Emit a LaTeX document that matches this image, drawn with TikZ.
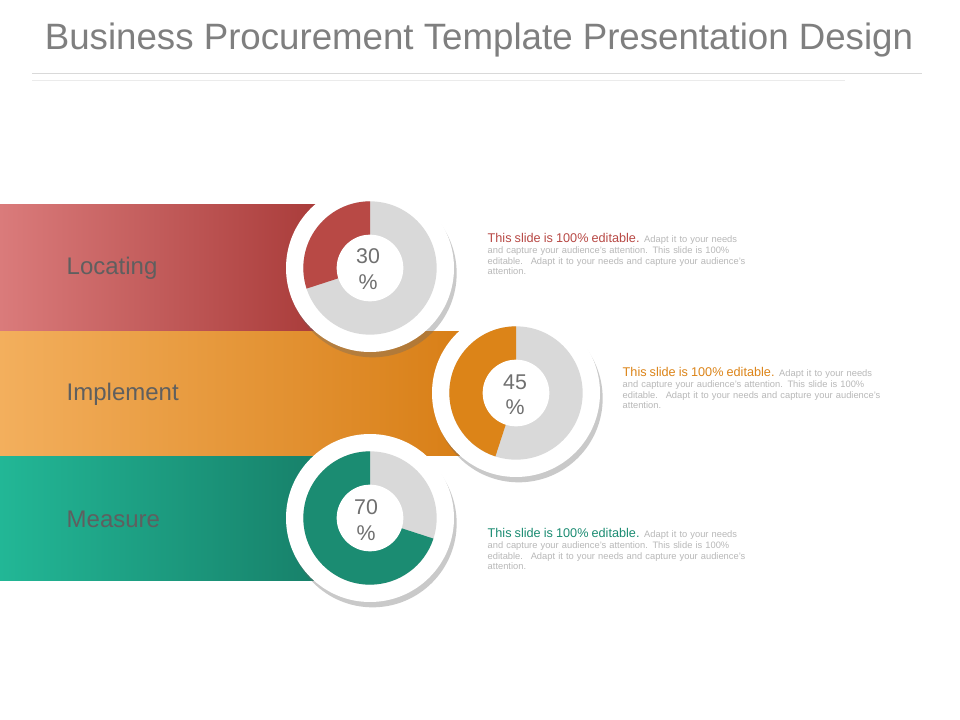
\documentclass[tikz,border=0pt]{standalone}
\usepackage{fontspec}
\setmainfont{Liberation Sans}
\usetikzlibrary{shadows}
\definecolor{redL}{HTML}{DA7B7B}\definecolor{redD}{HTML}{A1312F}\definecolor{redA}{HTML}{B84945}
\definecolor{orL}{HTML}{F3AF5D}\definecolor{orD}{HTML}{D77D14}\definecolor{orA}{HTML}{DC8418}
\definecolor{tlL}{HTML}{22B796}\definecolor{tlD}{HTML}{157762}\definecolor{tlA}{HTML}{1B8C72}
\definecolor{ringg}{HTML}{D9D9D9}\definecolor{txtg}{HTML}{5F5F5F}\definecolor{bodyg}{HTML}{B8B8B8}
\tikzset{
 px/.style={x=0.75pt,y=-0.75pt},
 bandlabel/.style={anchor=west,font=\fontsize{18}{20}\selectfont,text=txtg},
 pct/.style={font=\fontsize{16}{18}\selectfont,text=txtg!90,align=center},
 desc/.style={anchor=north west,text width=210pt,align=left,font=\fontsize{7}{8}\selectfont,text=bodyg,
   execute at begin node={\hyphenpenalty=10000\exhyphenpenalty=10000}},
}
\newcommand{\donut}[3]{%
 \fill[white,drop shadow={shadow xshift=2pt,shadow yshift=-4pt,opacity=0.35,fill=black!60}] (#1) circle (63pt);
 \fill[ringg] (#1) circle (50pt);
 \fill[#2] (#1) -- ++(90:50pt) arc[start angle=90,delta angle={#3*3.6},radius=50pt] -- cycle;
 \fill[white] (#1) circle (25pt);
}
\begin{document}
\begin{tikzpicture}[px]
\useasboundingbox (0,0) rectangle (960,720);
\fill[white] (0,0) rectangle (960,720);
\node[font=\fontsize{27.5}{30}\selectfont,text=txtg!80] (title) at (479,40) {Business Procurement Template Presentation Design};
\draw[black!15] (32,73) -- (922,73);
\draw[black!8] (32,80) -- (845,80);
\shade[left color=redL,right color=redD] (0,205) rectangle (372,330);
\shade[left color=orL,right color=orD] (0,331) rectangle (480,455);
\shade[left color=tlL,right color=tlD] (0,456) rectangle (372,580);
\node[bandlabel] (l1) at (62,268) {Locating};
\node[bandlabel] (l2) at (62,394) {Implement};
\node[bandlabel] (l3) at (62,519) {Measure};
\coordinate (c1) at (370,268);
\coordinate (c2) at (516,393);
\coordinate (c3) at (370,518);
\donut{c2}{orA}{45}
\donut{c3}{tlA}{70}
\donut{c1}{redA}{30}
\node[pct] (p1) at (368,269) {30\\[1pt]\%};
\node[pct] (p2) at (515,395) {45\\[1pt]\%};
\node[pct] (p3) at (366,520) {70\\[1pt]\%};
\node[desc] (d1) at (483,229) {{\fontsize{9.5}{10}\selectfont\color{redA}This slide is 100\% editable.} Adapt it to your needs and capture your audience's attention. This slide is 100\% editable.~ Adapt it to your needs and capture your audience's attention.};
\node[desc] (d2) at (618,363) {{\fontsize{9.5}{10}\selectfont\color{orA}This slide is 100\% editable.} Adapt it to your needs and capture your audience's attention. This slide is 100\% editable.~ Adapt it to your needs and capture your audience's attention.};
\node[desc] (d3) at (483,524) {{\fontsize{9.5}{10}\selectfont\color{tlA}This slide is 100\% editable.} Adapt it to your needs and capture your audience's attention. This slide is 100\% editable.~ Adapt it to your needs and capture your audience's attention.};
\end{tikzpicture}
\end{document}
